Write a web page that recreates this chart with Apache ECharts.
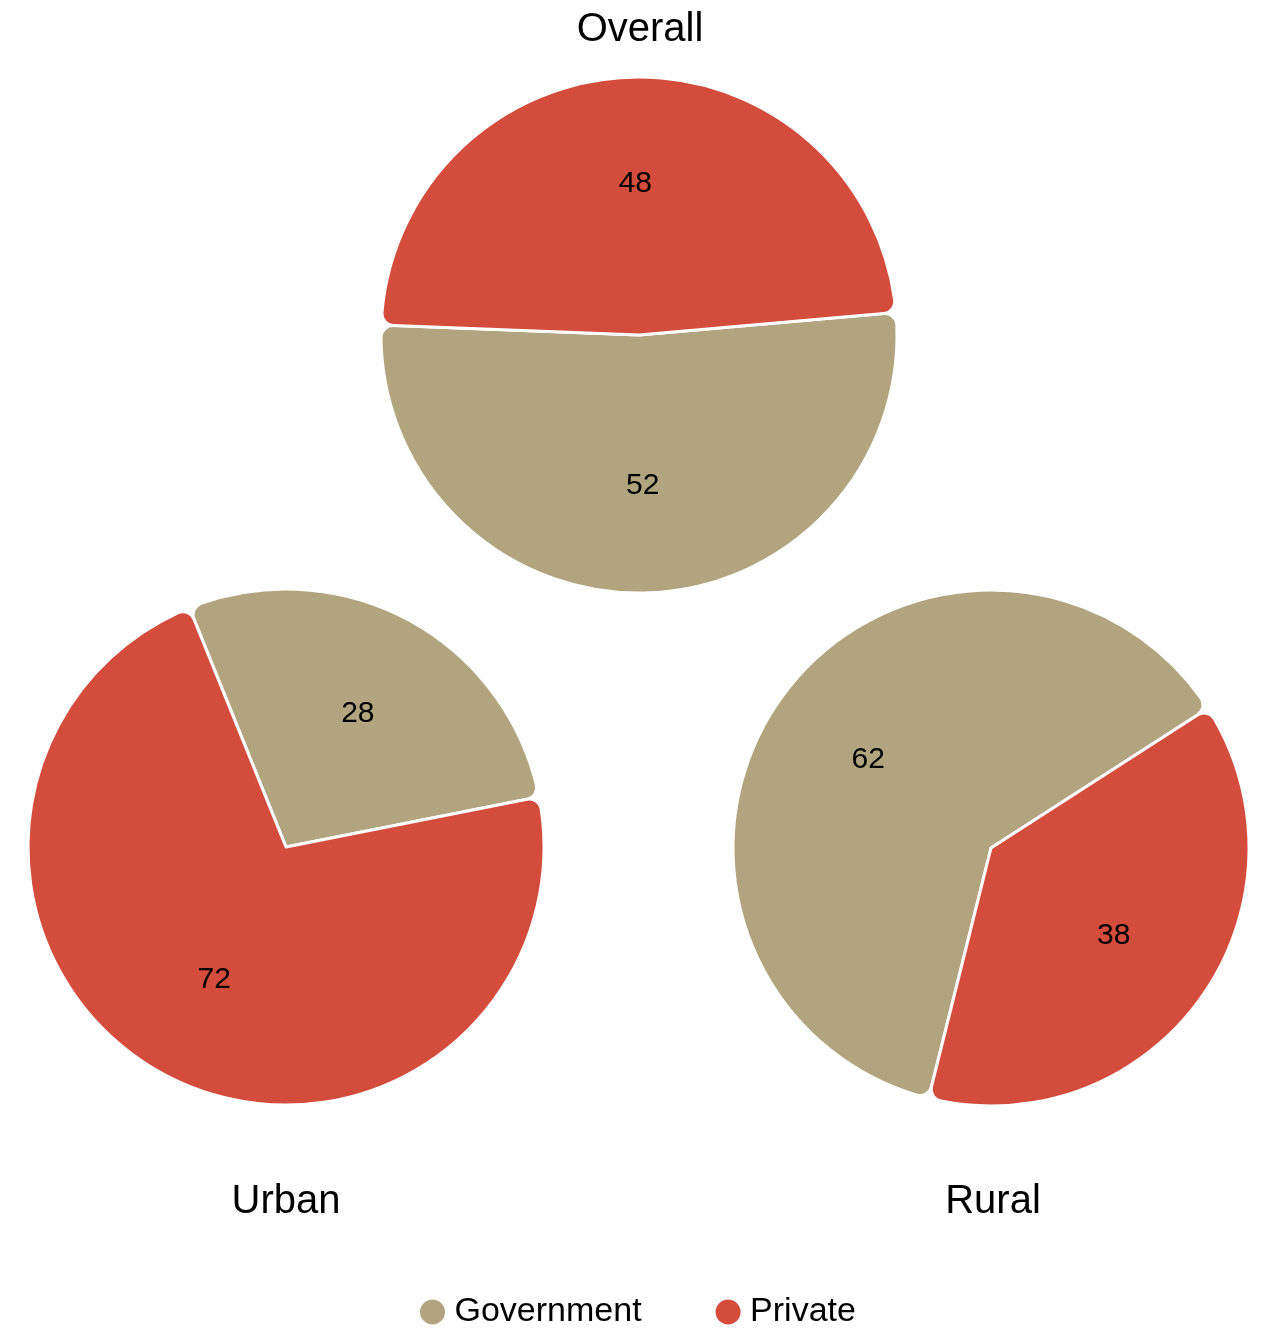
<!DOCTYPE html>
<html>
<head>
<meta charset="utf-8">
<script src="https://cdn.jsdelivr.net/npm/echarts@6/dist/echarts.min.js"></script>
<style>
  html, body { margin: 0; padding: 0; background: #fff; }
  #chart { width: 1266px; height: 1329px; }
</style>
</head>
<body>
<div id="chart"></div>
<script>
const categories = ['Government', 'Private'];
const overallValues = [52, 48];
const urbanValues = [28, 72];
const ruralValues = [62, 38];
const panelTitles = ['Overall', 'Urban', 'Rural'];

const colors = ['#b2a47e', '#d44c3c'];
const FONT = '"Liberation Sans", Arial, sans-serif';

const panels = [
  { title: panelTitles[0], values: overallValues, center: [639, 335], startAngle: 5, titlePos: [640, 10] },
  { title: panelTitles[1], values: urbanValues, center: [286, 847], startAngle: 112, titlePos: [286, 1182] },
  { title: panelTitles[2], values: ruralValues, center: [991, 848], startAngle: 256, titlePos: [993, 1182] }
];
const R = 258;

const series = [];
panels.forEach(function (p) {
  const data = categories.map(function (c, i) { return { name: c, value: p.values[i] }; });
  series.push({
    type: 'pie',
    center: p.center,
    radius: [0, R],
    startAngle: p.startAngle,
    clockwise: true,
    avoidLabelOverlap: false,
    silent: true,
    label: { show: false },
    labelLine: { show: false },
    itemStyle: { borderColor: '#ffffff', borderWidth: 3, borderRadius: 12 },
    data: data
  });
  series.push({
    type: 'pie',
    center: p.center,
    radius: [38, R],
    startAngle: p.startAngle,
    clockwise: true,
    avoidLabelOverlap: false,
    silent: true,
    legendHoverLink: false,
    itemStyle: { color: 'rgba(0,0,0,0)', borderWidth: 0 },
    label: {
      show: true,
      position: 'inside',
      formatter: '{c}',
      color: '#000',
      fontSize: 30,
      fontFamily: FONT
    },
    labelLine: { show: false },
    data: data.map(function (d) { return { name: d.name + ' ', value: d.value }; })
  });
});

const option = {
  animation: false,
  backgroundColor: '#ffffff',
  color: colors,
  title: panels.map(function (p) {
    return {
      text: p.title,
      left: p.titlePos[0],
      top: p.titlePos[1],
      padding: 0,
      textAlign: 'center',
      textStyle: { fontSize: 40, fontWeight: 'normal', color: '#000', fontFamily: FONT }
    };
  }),
  legend: {
    data: categories,
    left: 418,
    top: 1295,
    padding: 0,
    icon: 'circle',
    itemWidth: 34,
    itemHeight: 27,
    itemGap: 72,
    textStyle: { fontSize: 34, color: '#000', fontFamily: FONT },
    selectedMode: false
  },
  series: series
};

const chart = echarts.init(document.getElementById('chart'), null, { renderer: 'canvas' });
chart.setOption(option);
</script>
</body>
</html>
